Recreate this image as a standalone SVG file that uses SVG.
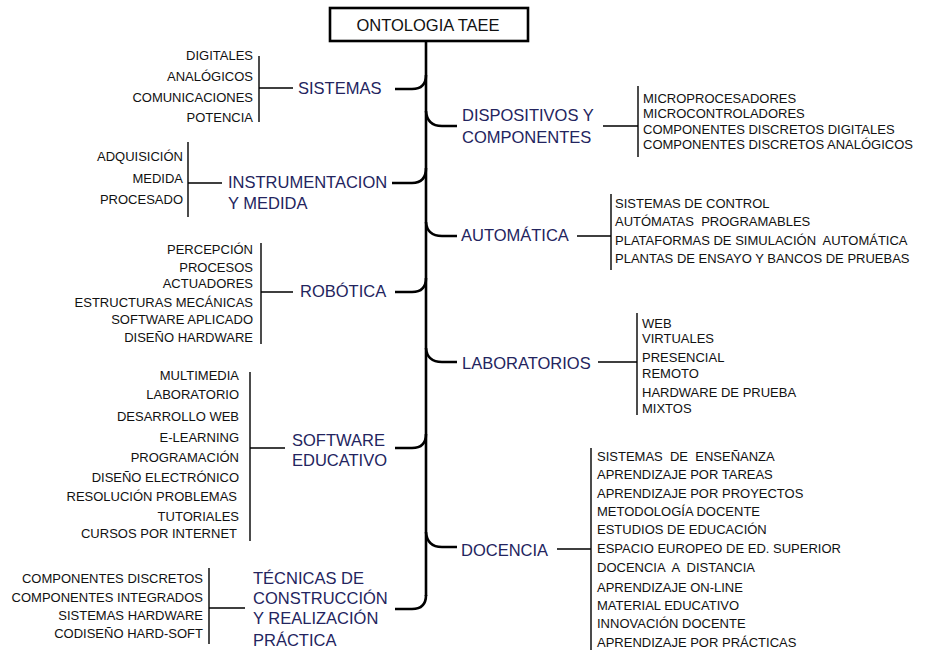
<svg xmlns="http://www.w3.org/2000/svg" width="925" height="650" viewBox="0 0 925 650">
<style>
.main{font-family:"Liberation Sans",Arial,sans-serif;font-size:16.5px;fill:#23245e}
.leaf{font-family:"Liberation Sans",Arial,sans-serif;font-size:13px;fill:#111;white-space:pre}
.r{text-anchor:end}
.title{font-family:"Liberation Sans",Arial,sans-serif;font-size:16.5px;fill:#111;text-anchor:middle}
.thick{fill:none;stroke:#000;stroke-width:2.6}
.thin{fill:none;stroke:#000;stroke-width:1.4}
</style>
<rect width="925" height="650" fill="#fff"/>
<g id="connectors">
<path class="thick" d="M426,41 V596"/>
<path class="thick" d="M395,89 H412 Q426,89 426,75"/>
<path class="thick" d="M392,183 H412 Q426,183 426,168"/>
<path class="thick" d="M395,292 H412 Q426,292 426,278"/>
<path class="thick" d="M395,448 H412 Q426,448 426,434"/>
<path class="thick" d="M395,609 H412 Q426,609 426,595"/>
<path class="thick" d="M426,111 Q427,126 442,126 H457"/>
<path class="thick" d="M426,222 Q427,236 442,236 H457"/>
<path class="thick" d="M426,348 Q427,362 442,362 H457"/>
<path class="thick" d="M426,532 Q427,547 442,547 H457"/>
</g>
<g id="root">
<rect x="330" y="8" width="198" height="33" fill="#fff" stroke="#000" stroke-width="2.6"/>
<text class="title" x="428" y="31">ONTOLOGIA TAEE</text>
</g>
<g id="sistemas">
<text class="main" x="298" y="94">SISTEMAS</text>
<path class="thin" d="M259,56 V122 M259,88 H293"/>
<text class="leaf r" x="253" y="60">DIGITALES</text>
<text class="leaf r" x="253" y="81">ANALÓGICOS</text>
<text class="leaf r" x="253" y="102">COMUNICACIONES</text>
<text class="leaf r" x="253" y="122">POTENCIA</text>
</g>
<g id="instrumentacion">
<text class="main" x="228" y="188">INSTRUMENTACION</text>
<text class="main" x="228" y="209">Y MEDIDA</text>
<path class="thin" d="M188,142 V217 M188,183 H222"/>
<text class="leaf r" x="183" y="161">ADQUISICIÓN</text>
<text class="leaf r" x="183" y="183">MEDIDA</text>
<text class="leaf r" x="183" y="204">PROCESADO</text>
</g>
<g id="robotica">
<text class="main" x="300" y="297">ROBÓTICA</text>
<path class="thin" d="M261,243 V344 M261,292 H293"/>
<text class="leaf r" x="253" y="254">PERCEPCIÓN</text>
<text class="leaf r" x="253" y="272">PROCESOS</text>
<text class="leaf r" x="253" y="288">ACTUADORES</text>
<text class="leaf r" x="253" y="307">ESTRUCTURAS MECÁNICAS</text>
<text class="leaf r" x="253" y="324">SOFTWARE APLICADO</text>
<text class="leaf r" x="253" y="342">DISEÑO HARDWARE</text>
</g>
<g id="software">
<text class="main" x="292" y="446">SOFTWARE</text>
<text class="main" x="292" y="466">EDUCATIVO</text>
<path class="thin" d="M250,372 V541 M250,448 H285"/>
<text class="leaf r" x="239" y="380">MULTIMEDIA</text>
<text class="leaf r" x="239" y="399">LABORATORIO</text>
<text class="leaf r" x="239" y="421">DESARROLLO WEB</text>
<text class="leaf r" x="239" y="442">E-LEARNING</text>
<text class="leaf r" x="239" y="462">PROGRAMACIÓN</text>
<text class="leaf r" x="239" y="482">DISEÑO ELECTRÓNICO</text>
<text class="leaf r" x="237" y="501">RESOLUCIÓN PROBLEMAS</text>
<text class="leaf r" x="239" y="521">TUTORIALES</text>
<text class="leaf r" x="237" y="538">CURSOS POR INTERNET</text>
</g>
<g id="tecnicas">
<text class="main" x="253" y="584">TÉCNICAS DE</text>
<text class="main" x="253" y="604">CONSTRUCCIÓN</text>
<text class="main" x="253" y="624">Y REALIZACIÓN</text>
<text class="main" x="253" y="646">PRÁCTICA</text>
<path class="thin" d="M209,568 V644 M209,608 H245"/>
<text class="leaf r" x="203" y="583">COMPONENTES DISCRETOS</text>
<text class="leaf r" x="203" y="602">COMPONENTES INTEGRADOS</text>
<text class="leaf r" x="203" y="620">SISTEMAS HARDWARE</text>
<text class="leaf r" x="203" y="638">CODISEÑO HARD-SOFT</text>
</g>
<g id="dispositivos">
<text class="main" x="462" y="121">DISPOSITIVOS Y</text>
<text class="main" x="462" y="143">COMPONENTES</text>
<path class="thin" d="M603,126 H638 M638,86 V157"/>
<text class="leaf" x="643" y="103">MICROPROCESADORES</text>
<text class="leaf" x="643" y="118">MICROCONTROLADORES</text>
<text class="leaf" x="643" y="134">COMPONENTES DISCRETOS DIGITALES</text>
<text class="leaf" x="643" y="149">COMPONENTES DISCRETOS ANALÓGICOS</text>
</g>
<g id="automatica">
<text class="main" x="461" y="241">AUTOMÁTICA</text>
<path class="thin" d="M577,236 H611 M611,194 V270"/>
<text class="leaf" x="615" y="208">SISTEMAS DE CONTROL</text>
<text class="leaf" x="615" y="226">AUTÓMATAS  PROGRAMABLES</text>
<text class="leaf" x="615" y="245">PLATAFORMAS DE SIMULACIÓN  AUTOMÁTICA</text>
<text class="leaf" x="615" y="263">PLANTAS DE ENSAYO Y BANCOS DE PRUEBAS</text>
</g>
<g id="laboratorios">
<text class="main" x="462" y="369">LABORATORIOS</text>
<path class="thin" d="M598,362 H637 M637,313 V415"/>
<text class="leaf" x="642" y="328">WEB</text>
<text class="leaf" x="642" y="343">VIRTUALES</text>
<text class="leaf" x="642" y="362">PRESENCIAL</text>
<text class="leaf" x="642" y="378">REMOTO</text>
<text class="leaf" x="642" y="397">HARDWARE DE PRUEBA</text>
<text class="leaf" x="642" y="413">MIXTOS</text>
</g>
<g id="docencia">
<text class="main" x="461" y="556">DOCENCIA</text>
<path class="thin" d="M557,549 H591 M591,448 V650"/>
<text class="leaf" x="597" y="461">SISTEMAS  DE  ENSEÑANZA</text>
<text class="leaf" x="597" y="479">APRENDIZAJE POR TAREAS</text>
<text class="leaf" x="597" y="498">APRENDIZAJE POR PROYECTOS</text>
<text class="leaf" x="597" y="516">METODOLOGÍA DOCENTE</text>
<text class="leaf" x="597" y="534">ESTUDIOS DE EDUCACIÓN</text>
<text class="leaf" x="597" y="553">ESPACIO EUROPEO DE ED. SUPERIOR</text>
<text class="leaf" x="597" y="572">DOCENCIA  A  DISTANCIA</text>
<text class="leaf" x="597" y="592">APRENDIZAJE ON-LINE</text>
<text class="leaf" x="597" y="610">MATERIAL EDUCATIVO</text>
<text class="leaf" x="597" y="628">INNOVACIÓN DOCENTE</text>
<text class="leaf" x="597" y="647">APRENDIZAJE POR PRÁCTICAS</text>
</g>
</svg>
